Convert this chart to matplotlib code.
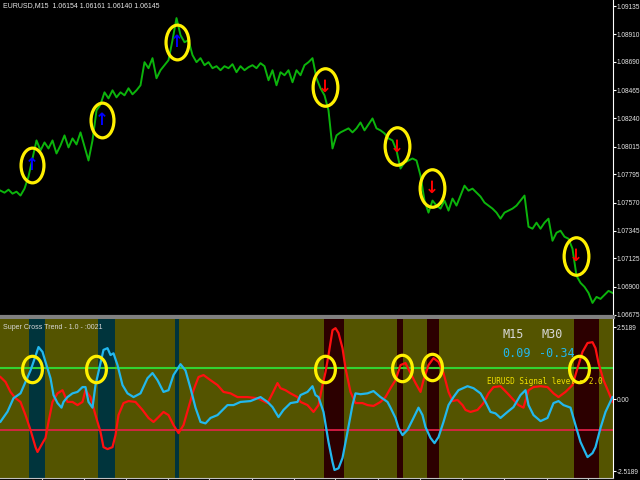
import matplotlib
matplotlib.use('Agg')
import matplotlib.pyplot as plt
from matplotlib.path import Path
from matplotlib.transforms import Affine2D

# price chart, EURUSD M15 (bar index, close)
bar_x = list(range(0, 613, 4))
price = [1.07665, 1.07649, 1.07673, 1.07641, 1.07657, 1.07626, 1.07681, 1.07777, 1.07921, 1.08065,
         1.07985, 1.08049, 1.08001, 1.08065, 1.07961, 1.08025, 1.08105, 1.08009, 1.08081, 1.08033,
         1.08129, 1.08017, 1.07905, 1.08065, 1.08304, 1.08352, 1.08448, 1.08400, 1.08464, 1.08408,
         1.08448, 1.08424, 1.08480, 1.08432, 1.08464, 1.08504, 1.08688, 1.08640, 1.08720, 1.08560,
         1.08624, 1.08664, 1.08704, 1.08863, 1.09039, 1.08903, 1.08847, 1.08863, 1.08744, 1.08688,
         1.08720, 1.08664, 1.08688, 1.08640, 1.08656, 1.08624, 1.08656, 1.08640, 1.08672, 1.08608,
         1.08656, 1.08624, 1.08648, 1.08664, 1.08640, 1.08680, 1.08656, 1.08544, 1.08624, 1.08504,
         1.08608, 1.08584, 1.08624, 1.08528, 1.08624, 1.08584, 1.08664, 1.08688, 1.08720, 1.08560,
         1.08480, 1.08424, 1.08304, 1.08001, 1.08105, 1.08129, 1.08145, 1.08161, 1.08129, 1.08161,
         1.08208, 1.08145, 1.08192, 1.08240, 1.08161, 1.08145, 1.08121, 1.08081, 1.08065, 1.07985,
         1.07841, 1.07889, 1.07905, 1.07921, 1.07905, 1.07785, 1.07586, 1.07490, 1.07586, 1.07546,
         1.07522, 1.07586, 1.07506, 1.07602, 1.07546, 1.07626, 1.07705, 1.07665, 1.07681, 1.07649,
         1.07618, 1.07570, 1.07546, 1.07522, 1.07490, 1.07442, 1.07490, 1.07506, 1.07522, 1.07546,
         1.07586, 1.07626, 1.07378, 1.07362, 1.07410, 1.07362, 1.07410, 1.07442, 1.07266, 1.07330,
         1.07346, 1.07298, 1.07282, 1.07202, 1.06987, 1.06931, 1.06899, 1.06851, 1.06771, 1.06819,
         1.06803, 1.06835, 1.06867, 1.06851]
price_ticks = [1.09135, 1.08910, 1.08690, 1.08465, 1.08240, 1.08015,
               1.07795, 1.07570, 1.07345, 1.07125, 1.06900, 1.06675]

# signal arrows on the price chart
buy_x = [31, 101, 176]
buy_price = [1.07873, 1.08224, 1.08851]
sell_x = [324, 396, 431, 575]
sell_price = [1.08488, 1.08017, 1.07689, 1.07146]

# Super Cross Trend indicator
cyan_x = [0, 7, 13, 20, 25, 30, 33, 38, 42, 45, 50, 53, 57, 61, 63, 67, 72, 77, 82, 85,
          88, 92, 95, 98, 103, 107, 110, 113, 117, 122, 127, 133, 140, 147, 152, 157, 163, 168, 173, 180,
          185, 190, 195, 200, 205, 210, 217, 227, 233, 240, 250, 260, 267, 272, 278, 283, 290, 297, 300, 307,
          312, 315, 318, 323, 328, 332, 334, 338, 342, 347, 352, 355, 360, 367, 373, 380, 387, 390, 395, 398,
          402, 407, 413, 418, 422, 425, 430, 434, 438, 443, 448, 453, 458, 467, 473, 480, 485, 490, 495, 500,
          507, 513, 520, 525, 528, 533, 540, 547, 553, 558, 563, 570, 575, 580, 587, 592, 595, 600, 605, 612]
cyan_v = [-0.79, -0.44, 0.03, 0.2, 0.6, 1.0, 1.3, 1.82, 1.65, 1.3, 0.73, 0.14, -0.14, -0.3, -0.1, 0.07, 0.2, 0.25, 0.42, 0.42,
          -0.1, -0.3, 0.49, 0.95, 1.72, 1.78, 1.54, 1.6, 1.19, 0.49, 0.2, 0.07, 0.2, 0.73, 0.91, 0.66, 0.25, 0.31, 0.84, 1.22,
          1.0, 0.38, -0.3, -0.8, -0.85, -0.66, -0.56, -0.21, -0.21, -0.1, -0.07, 0.07, -0.1, -0.28, -0.63, -0.38, -0.14, -0.1, 0.14, 0.25,
          0.45, 0.14, 0.07, -0.45, -1.5, -2.2, -2.48, -2.42, -2.06, -1.15, -0.21, 0.2, 0.17, 0.2, 0.28, 0.07, -0.1, -0.3, -0.66, -1.01,
          -1.26, -1.08, -0.66, -0.3, -0.56, -0.98, -1.36, -1.54, -1.33, -0.8, -0.21, 0.07, 0.31, 0.45, 0.38, 0.2, -0.1, -0.45, -0.5, -0.66,
          -0.45, -0.28, 0.14, 0.31, -0.21, -0.56, -0.77, -0.66, -0.14, -0.07, -0.21, -0.3, -0.91, -1.5, -2.03, -1.89, -1.68, -1.01, -0.45, 0.07]
red_x = [0, 5, 10, 15, 20, 25, 30, 35, 37, 42, 45, 48, 52, 57, 62, 67, 72, 77, 82, 85,
         90, 95, 100, 103, 107, 112, 115, 118, 123, 128, 135, 142, 148, 153, 158, 163, 168, 173, 178, 183,
         188, 193, 198, 203, 210, 217, 223, 230, 237, 247, 257, 267, 272, 277, 280, 285, 290, 297, 300, 307,
         313, 318, 322, 325, 328, 332, 335, 338, 342, 345, 350, 355, 362, 367, 373, 380, 385, 390, 395, 400,
         405, 410, 415, 420, 423, 428, 433, 438, 443, 448, 452, 457, 462, 465, 470, 477, 483, 488, 493, 500,
         507, 513, 518, 523, 528, 533, 540, 547, 553, 558, 565, 572, 577, 582, 587, 592, 595, 598, 603, 608, 612]
red_v = [0.77, 0.6, 0.25, 0.03, -0.1, -0.56, -1.08, -1.68, -1.85, -1.54, -1.36, -0.8, -0.1, 0.2, 0.31, -0.1, -0.1, -0.21, -0.1, 0.31,
         0.07, -0.56, -1.15, -1.68, -1.75, -1.68, -1.26, -0.56, -0.14, -0.07, -0.1, -0.38, -0.66, -0.8, -0.63, -0.45, -0.56, -0.91, -1.19, -0.91,
         -0.3, 0.31, 0.77, 0.84, 0.66, 0.49, 0.25, 0.2, 0.07, 0.07, 0.03, -0.14, 0.2, 0.56, 0.38, 0.31, 0.2, 0.07, -0.1, -0.21,
         -0.45, -0.21, 0.49, 0.94, 1.54, 2.41, 2.48, 2.31, 1.78, 1.08, 0.25, -0.14, -0.14, -0.21, -0.24, -0.1, 0.07, 0.38, 0.66, 1.19,
         1.26, 0.91, 0.56, 0.25, 0.66, 1.19, 1.43, 1.3, 0.91, 0.25, -0.07, -0.03, -0.21, -0.38, -0.45, -0.38, -0.14, 0.2, 0.42, 0.45,
         0.2, -0.03, -0.21, -0.3, 0.31, 0.42, 0.45, 0.42, 0.2, 0.07, 0.25, 0.49, 1.08, 1.65, 1.96, 1.99, 1.78, 1.26, 0.66, 0.25, -0.1]
upper_level = 1.08
lower_level = -1.08
ind_ticks = [2.5189, 0.0, -2.5189]
ind_tick_labels = ['2.5189', '0.00', '-2.5189']
cross_x = [31, 95, 324, 401, 431, 578]
cross_v = [1.05, 1.05, 1.05, 1.07, 1.12, 1.05]
bull_zones = [(28, 44), (97, 114), (174, 178)]
bear_zones = [(323, 343), (396, 402), (426, 438), (573, 598)]
time_ticks = [41, 83, 125, 167, 208, 251, 293, 334, 377, 419, 461, 503, 546, 587]

small = 'Liberation Sans'

fig = plt.figure(figsize=(6.4, 4.8), dpi=100, facecolor='black')
ax = fig.add_axes([0, 1 - 317 / 480, 613 / 640, 317 / 480], facecolor='black')
ax2 = fig.add_axes([0, 2 / 480, 613 / 640, 159 / 480], facecolor='#545400')


def ellipse(ratio):
    return Path.unit_circle().transformed(Affine2D().scale(ratio, 1.0))


# price
ax.plot(bar_x, price, color='#0cb40c', lw=1.4)
ax.plot(buy_x, buy_price, ls='none', marker=ellipse(0.66), ms=25, mfc='none',
        mec='#fff000', mew=2.3)
ax.plot(sell_x, sell_price, ls='none', marker=ellipse(0.66), ms=27, mfc='none',
        mec='#fff000', mew=2.3)
for x, p in zip(buy_x, buy_price):
    ax.text(x, p, '\u2191', color='#0000ff', fontsize=12, fontweight='bold', ha='center', va='center')
for x, p in zip(sell_x, sell_price):
    ax.text(x, p, '\u2193', color='#ff0000', fontsize=12, fontweight='bold', ha='center', va='center')

ax.set_xlim(-0.5, 612.5)
ax.set_ylim(1.06659, 1.09183)
ax.yaxis.tick_right()
ax.set_yticks(price_ticks)
ax.set_yticklabels(['%.5f' % t for t in price_ticks], family=small)
ax.tick_params(axis='y', colors='white', labelsize=4.7, length=2, pad=0.5, labelcolor='#e8e8e8')
ax.set_xticks([])
for s in ['top', 'left']:
    ax.spines[s].set_visible(False)
ax.spines['right'].set_color('white')
ax.spines['bottom'].set_color('#808080')
ax.spines['bottom'].set_linewidth(3)
ax.text(0.005, 0.995, 'EURUSD,M15  1.06154 1.06161 1.06140 1.06145', transform=ax.transAxes,
        color='#e8e8e8', fontsize=5, family=small, ha='left', va='top')

# indicator
for a, b in bull_zones:
    ax2.axvspan(a, b, color='#00343c', lw=0)
for a, b in bear_zones:
    ax2.axvspan(a, b, color='#2c0000', lw=0)
ax2.axhline(upper_level, color='#32d232', lw=1.5)
ax2.axhline(lower_level, color='#e8204a', lw=1.2)
ax2.plot(red_x, red_v, color='#ff1010', lw=1.6)
ax2.plot(cyan_x, cyan_v, color='#22b8ee', lw=1.6)
ax2.plot(cross_x, cross_v, ls='none', marker=ellipse(0.75), ms=19, mfc='none',
         mec='#fff000', mew=2.3)

ax2.set_xlim(-0.5, 612.5)
ax2.set_ylim(-2.76, 2.80)
ax2.yaxis.tick_right()
ax2.set_yticks(ind_ticks)
ax2.set_yticklabels(ind_tick_labels, family=small)
ax2.tick_params(axis='y', colors='white', labelsize=4.7, length=2, pad=0.5, labelcolor='#e8e8e8')
ax2.set_xticks(time_ticks)
ax2.set_xticklabels([])
ax2.tick_params(axis='x', colors='#c0c0c0', length=3)
ax2.spines['top'].set_visible(False)
ax2.spines['left'].set_visible(False)
ax2.spines['right'].set_color('white')
ax2.spines['bottom'].set_color('#c0c0c0')

ax2.text(0.005, 0.97, 'Super Cross Trend - 1.0 - :0021', transform=ax2.transAxes,
         color='#d8d8d8', fontsize=5, family=small, ha='left', va='top')
ax2.text(0.837, 0.90, 'M15', transform=ax2.transAxes, color='#d8d8d8', fontsize=8.5,
         family='DejaVu Sans Mono', ha='center', va='center')
ax2.text(0.90, 0.90, 'M30', transform=ax2.transAxes, color='#d8d8d8', fontsize=8.5,
         family='DejaVu Sans Mono', ha='center', va='center')
ax2.text(0.842, 0.786, '0.09', transform=ax2.transAxes, color='#22b8ee', fontsize=8.5,
         family='DejaVu Sans Mono', ha='center', va='center')
ax2.text(0.909, 0.786, '-0.34', transform=ax2.transAxes, color='#22b8ee', fontsize=8.5,
         family='DejaVu Sans Mono', ha='center', va='center')
ax2.text(0.889, 0.61, 'EURUSD Signal level = 2.0', transform=ax2.transAxes, color='#f0e000',
         fontsize=5.6, family='DejaVu Sans Mono', ha='center', va='center')

fig.savefig('out.png', dpi=100, facecolor='black')
